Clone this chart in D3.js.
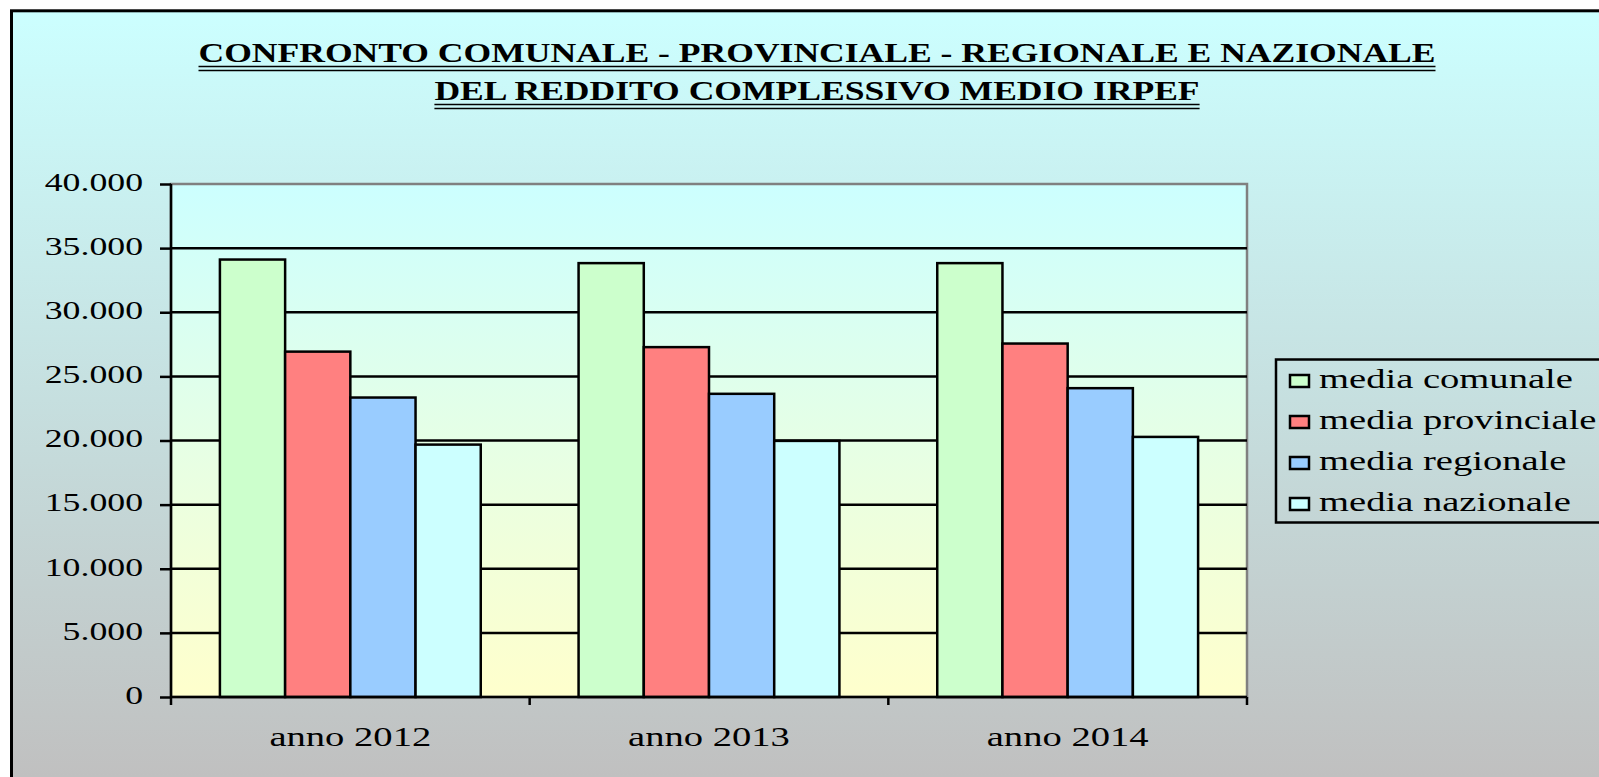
<!DOCTYPE html>
<html>
<head>
<meta charset="utf-8">
<script src="https://cdn.jsdelivr.net/npm/d3@7"></script>
<style>
  body { margin: 0; background: #fff; }
  text { font-family: "Liberation Serif", serif; fill: #000; }
</style>
</head>
<body>
<svg id="chart" width="1599" height="777"></svg>
<script>
// dati
const years = ["anno 2012", "anno 2013", "anno 2014"]
const seriesNames = ["media comunale", "media provinciale", "media regionale", "media nazionale"]
const comunale = [34110, 33830, 33830]
const provinciale = [26930, 27280, 27560]
const regionale = [23350, 23640, 24080]
const nazionale = [19680, 19970, 20280]
const yTicks = [0, 5000, 10000, 15000, 20000, 25000, 30000, 35000, 40000]
const titleLines = ["CONFRONTO COMUNALE - PROVINCIALE - REGIONALE E NAZIONALE", "DEL REDDITO COMPLESSIVO MEDIO IRPEF"]

const seriesValues = [comunale, provinciale, regionale, nazionale]
const colours = ["#CCFFCC", "#FF8080", "#99CCFF", "#CCFFFF"]

const plotLeft = 171
const plotRight = 1247
const plotTop = 184
const plotBottom = 697
const sx = 1.43        // il grafico originale e' stirato in orizzontale
const sxTitle = 1.27

const svg = d3.select("#chart")
const defs = svg.append("defs")

const bgGrad = defs.append("linearGradient")
    .attr("id", "bg")
    .attr("gradientUnits", "userSpaceOnUse")
    .attr("x1", 0).attr("x2", 0).attr("y1", 10).attr("y2", 777)
bgGrad.append("stop").attr("offset", 0).attr("stop-color", "#CCFFFF")
bgGrad.append("stop").attr("offset", 1).attr("stop-color", "#C0C0C0")

const plotGrad = defs.append("linearGradient")
    .attr("id", "plotbg")
    .attr("gradientUnits", "userSpaceOnUse")
    .attr("x1", 0).attr("x2", 0).attr("y1", plotTop).attr("y2", plotBottom)
plotGrad.append("stop").attr("offset", 0).attr("stop-color", "#CCFFFF")
plotGrad.append("stop").attr("offset", 1).attr("stop-color", "#FFFFCC")

// area del grafico con bordo nero
svg.append("rect")
    .attr("x", 11.5).attr("y", 10.8)
    .attr("width", 1700).attr("height", 900)
    .attr("fill", "url(#bg)")
    .attr("stroke", "#000")
    .attr("stroke-width", 3)

// titolo con doppia sottolineatura
const titleY = [62, 100]
titleLines.forEach((line, i) => {
  const t = svg.append("text")
      .attr("transform", `translate(817,${titleY[i]}) scale(${sxTitle},1)`)
      .attr("text-anchor", "middle")
      .style("font-size", "28px")
      .style("font-weight", "bold")
      .text(line)
  const w = t.node().getComputedTextLength() * sxTitle
  ;[4.5, 8.5].forEach(off => {
    svg.append("line")
        .attr("x1", 817 - w / 2).attr("x2", 817 + w / 2)
        .attr("y1", titleY[i] + off).attr("y2", titleY[i] + off)
        .attr("stroke", "#000")
        .attr("stroke-width", 1.6)
  })
})

const xScale = d3.scaleBand()
    .domain(years)
    .range([plotLeft, plotRight])

const xInner = d3.scaleBand()
    .domain(d3.range(seriesNames.length))
    .range([0, xScale.bandwidth()])
    .paddingOuter(0.75)

const yScale = d3.scaleLinear()
    .domain([0, 40000])
    .range([plotBottom, plotTop])

svg.append("rect")
    .attr("x", plotLeft).attr("y", plotTop)
    .attr("width", plotRight - plotLeft).attr("height", plotBottom - plotTop)
    .attr("fill", "url(#plotbg)")
    .attr("stroke", "#808080")
    .attr("stroke-width", 2.5)

// griglia
svg.append("g")
    .selectAll("line")
    .data(yTicks.filter(d => d > 0 && d < 40000))
    .join("line")
    .attr("x1", plotLeft).attr("x2", plotRight)
    .attr("y1", d => yScale(d)).attr("y2", d => yScale(d))
    .attr("stroke", "#000")
    .attr("stroke-width", 2.5)

// barre
const barData = []
years.forEach((y, i) => {
  seriesValues.forEach((vals, s) => barData.push({year: y, s: s, value: vals[i]}))
})

svg.append("g")
    .selectAll("rect")
    .data(barData)
    .join("rect")
    .attr("x", d => xScale(d.year) + xInner(d.s))
    .attr("y", d => yScale(d.value))
    .attr("width", xInner.bandwidth())
    .attr("height", d => plotBottom - yScale(d.value))
    .attr("fill", d => colours[d.s])
    .attr("stroke", "#000")
    .attr("stroke-width", 2.5)

// asse y
const fmt = d3.formatLocale({decimal: ",", thousands: ".", grouping: [3]}).format(",d")
const yAxis = svg.append("g")
    .attr("transform", `translate(${plotLeft},0)`)
    .call(d3.axisLeft(yScale).tickValues(yTicks).tickFormat(fmt).tickSize(11).tickPadding(0))
yAxis.select(".domain").attr("stroke", "#000").attr("stroke-width", 2.5)
    .attr("d", `M0,${plotTop}V${plotBottom}`)
yAxis.selectAll(".tick line").attr("stroke", "#000").attr("stroke-width", 2.5)
yAxis.selectAll(".tick text")
    .attr("x", -28 / sx)
    .attr("dy", "0.25em")
    .attr("transform", `scale(${sx},1)`)
    .style("font-size", "25px")
    .style("font-family", "'Liberation Serif', serif")
    .attr("fill", "#000")

// asse x
const xAxis = svg.append("g")
    .attr("transform", `translate(0,${plotBottom})`)
    .call(d3.axisBottom(xScale).tickSize(0))
xAxis.select(".domain").attr("stroke", "#000").attr("stroke-width", 2.5)
    .attr("d", `M${plotLeft},0H${plotRight}`)
xAxis.selectAll(".tick text")
    .attr("y", 49)
    .attr("dy", 0)
    .attr("transform", `scale(${sx},1)`)
    .style("font-size", "27px")
    .style("font-family", "'Liberation Serif', serif")
    .attr("fill", "#000")

svg.append("g")
    .selectAll("line")
    .data(years.map(y => xScale(y)).concat([plotRight]))
    .join("line")
    .attr("x1", d => d).attr("x2", d => d)
    .attr("y1", plotBottom).attr("y2", plotBottom + 8)
    .attr("stroke", "#000")
    .attr("stroke-width", 2.5)

// legenda
const legend = svg.append("g")
legend.append("rect")
    .attr("x", 1276).attr("y", 359.5)
    .attr("width", 400).attr("height", 163)
    .attr("fill", "none")
    .attr("stroke", "#000")
    .attr("stroke-width", 2.5)

const items = legend.selectAll("g.item")
    .data(seriesNames)
    .join("g")
    .attr("class", "item")
    .attr("transform", (d, i) => `translate(1289,${388 + i * 41})`)
items.append("rect")
    .attr("x", 1).attr("y", -13)
    .attr("width", 19).attr("height", 12)
    .attr("fill", (d, i) => colours[i])
    .attr("stroke", "#000")
    .attr("stroke-width", 2.5)
items.append("text")
    .attr("x", 30 / sx)
    .attr("transform", `scale(${sx},1)`)
    .style("font-size", "27px")
    .text(d => d)
</script>
</body>
</html>
